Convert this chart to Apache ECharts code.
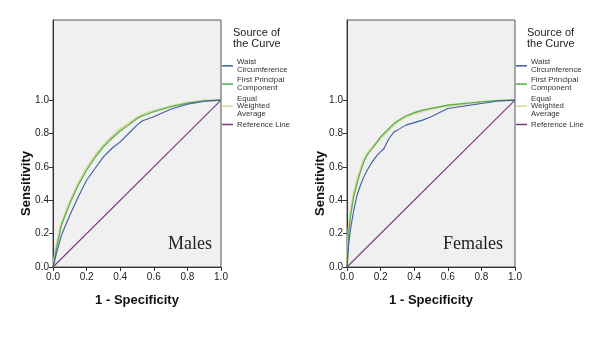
<!DOCTYPE html>
<html>
<head>
<meta charset="utf-8">
<script src="https://cdn.jsdelivr.net/npm/echarts@6/dist/echarts.min.js"></script>
<style>
  html, body { margin: 0; padding: 0; background: #fff; }
  #main { width: 600px; height: 338px; }
</style>
</head>
<body>
<div id="main"></div>
<script>
// ROC curves
var seriesNames = ['Waist Circumference', 'First Principal Component', 'Equal Weighted Average', 'Reference Line'];
var legendLabels = ['Waist\nCircumference', 'First Principal\nComponent', 'Equal\nWeighted\nAverage', 'Reference Line'];
var panelLabels = ['Males', 'Females'];
var tickValues = [0, 0.2, 0.4, 0.6, 0.8, 1.0];

var maleFpr   = [0, 0.02, 0.05, 0.1, 0.15, 0.2, 0.25, 0.3, 0.35, 0.4, 0.45, 0.5, 0.53, 0.6, 0.7, 0.8, 0.9, 1.0];
var maleWaist = [0, 0.08, 0.19, 0.31, 0.42, 0.52, 0.59, 0.66, 0.71, 0.75, 0.80, 0.85, 0.875, 0.90, 0.945, 0.975, 0.993, 1.0];
var maleFpc   = [0, 0.11, 0.25, 0.38, 0.49, 0.58, 0.655, 0.72, 0.77, 0.815, 0.85, 0.89, 0.905, 0.93, 0.96, 0.982, 0.996, 1.0];
var maleEwa   = [0, 0.12, 0.26, 0.39, 0.50, 0.59, 0.665, 0.73, 0.78, 0.825, 0.86, 0.895, 0.91, 0.935, 0.962, 0.983, 0.996, 1.0];

var femaleFpr   = [0, 0.01, 0.02, 0.04, 0.06, 0.08, 0.1, 0.12, 0.15, 0.18, 0.2, 0.22, 0.25, 0.28, 0.3, 0.35, 0.4, 0.45, 0.5, 0.6, 0.7, 0.8, 0.9, 1.0];
var femaleWaist = [0, 0.14, 0.22, 0.34, 0.43, 0.49, 0.54, 0.58, 0.63, 0.67, 0.69, 0.71, 0.77, 0.81, 0.82, 0.85, 0.865, 0.88, 0.90, 0.95, 0.965, 0.98, 0.995, 1.0];
var femaleFpc   = [0, 0.20, 0.30, 0.42, 0.50, 0.57, 0.63, 0.67, 0.71, 0.75, 0.78, 0.80, 0.83, 0.86, 0.875, 0.905, 0.925, 0.94, 0.95, 0.97, 0.98, 0.99, 0.998, 1.0];
var femaleEwa   = [0, 0.22, 0.32, 0.44, 0.52, 0.58, 0.64, 0.68, 0.715, 0.75, 0.775, 0.795, 0.825, 0.855, 0.87, 0.90, 0.92, 0.935, 0.948, 0.968, 0.978, 0.988, 0.997, 1.0];

var refX = [0, 1];
var refY = [0, 1];

var colors = ['#3f5aa8', '#4cb050', '#d6d69a', '#7a3a7a'];

function pairs(xs, ys) {
    return xs.map(function (x, i) { return [x, ys[i]]; });
}

var myChart = echarts.init(document.getElementById('main'));

var panels = [
    { left: 53, fpr: maleFpr, ys: [maleWaist, maleFpc, maleEwa] },
    { left: 347, fpr: femaleFpr, ys: [femaleWaist, femaleFpc, femaleEwa] }
];

var grids = [], xAxes = [], yAxes = [], series = [], legends = [], graphics = [];

panels.forEach(function (p, k) {
    grids.push({
        left: p.left, top: 20, width: 168, height: 247,
        show: true, backgroundColor: '#f0f0f0', borderColor: '#555', borderWidth: 1,
        outerBoundsMode: 'none'
    });
    xAxes.push({
        gridIndex: k, type: 'value', min: 0, max: 1, interval: 0.2,
        name: '1 - Specificity', nameLocation: 'middle', nameGap: 27,
        nameTextStyle: { fontSize: 13, fontWeight: 'bold', color: '#111', fontFamily: 'Liberation Sans' },
        axisLine: { show: true, lineStyle: { color: '#333' } },
        axisTick: { show: true, length: 4, lineStyle: { color: '#333' } },
        axisLabel: { fontSize: 10, color: '#222', margin: 5, fontFamily: 'Liberation Sans',
            formatter: function (v) { return v.toFixed(1); } },
        splitLine: { show: false }
    });
    yAxes.push({
        gridIndex: k, type: 'value', min: 0, max: 1.48, interval: 0.2,
        axisLine: { show: true, lineStyle: { color: '#333' } },
        axisTick: { show: true, length: 4, customValues: tickValues, lineStyle: { color: '#333' } },
        axisLabel: { fontSize: 10, color: '#222', margin: 4, fontFamily: 'Liberation Sans',
            customValues: tickValues,
            formatter: function (v) { return v.toFixed(1); } },
        splitLine: { show: false }
    });

    // beige drawn first so green sits on it
    [2, 1, 0].forEach(function (j) {
        series.push({
            name: seriesNames[j], type: 'line', xAxisIndex: k, yAxisIndex: k,
            data: pairs(p.fpr, p.ys[j]), symbol: 'none', animation: false,
            lineStyle: { color: colors[j], width: j === 2 ? 2.4 : 1.1 },
            itemStyle: { color: colors[j] }, z: 3 + (2 - j)
        });
    });
    series.push({
        name: seriesNames[3], type: 'line', xAxisIndex: k, yAxisIndex: k,
        data: pairs(refX, refY), symbol: 'none', animation: false,
        lineStyle: { color: colors[3], width: 1.1 }, itemStyle: { color: colors[3] }
    });

    legends.push({
        data: seriesNames, orient: 'vertical', left: p.left + 169, top: 58,
        padding: 0, icon: 'rect', itemWidth: 11, itemHeight: 1.5, itemGap: 2.7,
        selectedMode: false,
        textStyle: { fontSize: 7.8, lineHeight: 7.6, color: '#333', fontFamily: 'Liberation Sans', padding: [0, 0, 0, -1] },
        formatter: function (name) { return legendLabels[seriesNames.indexOf(name)]; }
    });

    graphics.push({
        type: 'text', left: p.left + 180, top: 27.5,
        style: { text: 'Source of\nthe Curve', fontSize: 11, lineHeight: 10.5, fill: '#222', fontFamily: 'Liberation Sans' }
    });
    graphics.push({
        type: 'text', x: p.left - 27, y: 183.5, rotation: Math.PI / 2,
        style: { text: 'Sensitivity', fontSize: 13, fontWeight: 'bold', fill: '#111', fontFamily: 'Liberation Sans',
            align: 'center', verticalAlign: 'middle' }
    });
    graphics.push({
        type: 'text', x: p.left + 137 + (k === 1 ? -11 : 0), y: 244,
        style: { text: panelLabels[k], fontSize: 18, fill: '#222', fontFamily: 'Liberation Serif',
            align: 'center', verticalAlign: 'middle' }
    });
});

option = {
    backgroundColor: '#fff',
    animation: false,
    grid: grids,
    xAxis: xAxes,
    yAxis: yAxes,
    legend: legends,
    graphic: graphics,
    series: series
};

myChart.setOption(option);
</script>
</body>
</html>
